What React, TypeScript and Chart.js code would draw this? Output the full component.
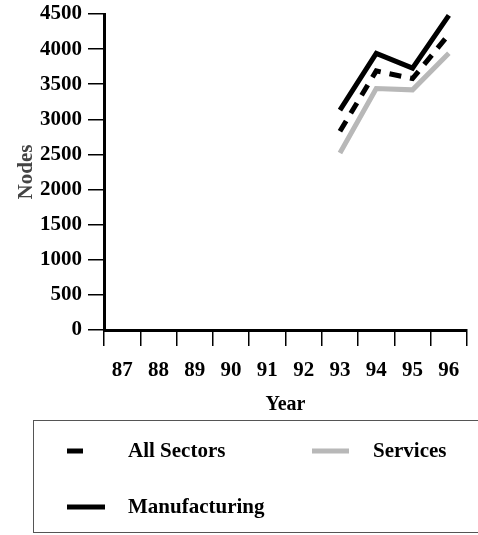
import React, { useEffect, useRef } from 'react';
import { Chart, registerables } from 'chart.js';

Chart.register(...registerables);

const years = ['87', '88', '89', '90', '91', '92', '93', '94', '95', '96'];
const allSectors = [null, null, null, null, null, null, 2830, 3690, 3580, 4210];
const services = [null, null, null, null, null, null, 2520, 3440, 3420, 3940];
const manufacturing = [null, null, null, null, null, null, 3130, 3940, 3730, 4480];
const yTicks = [0, 500, 1000, 1500, 2000, 2500, 3000, 3500, 4000, 4500];

const FONT = "'Liberation Serif', 'Times New Roman', serif";

const legendPlugin = {
  id: 'boxLegend',
  afterDraw(chart: any) {
    const ctx = chart.ctx as CanvasRenderingContext2D;
    ctx.save();
    ctx.strokeStyle = '#555';
    ctx.lineWidth = 1;
    ctx.strokeRect(33.5, 420.5, 460, 112);
    const items = [
      { ds: 0, mx1: 67, mx2: 83, tx: 128, y: 451 },
      { ds: 1, mx1: 312, mx2: 349, tx: 373, y: 451 },
      { ds: 2, mx1: 67, mx2: 105, tx: 128, y: 507 },
    ];
    ctx.font = `bold 21px ${FONT}`;
    ctx.textBaseline = 'middle';
    ctx.fillStyle = '#000';
    items.forEach((it) => {
      const d = chart.data.datasets[it.ds];
      ctx.beginPath();
      ctx.strokeStyle = d.borderColor;
      ctx.lineWidth = d.borderWidth;
      ctx.lineCap = 'butt';
      ctx.moveTo(it.mx1, it.y);
      ctx.lineTo(it.mx2, it.y);
      ctx.stroke();
      ctx.fillStyle = '#000';
      ctx.fillText(d.label, it.tx, it.y + 1);
    });
    ctx.restore();
  },
};

export default function App() {
  const ref = useRef<HTMLCanvasElement>(null);
  useEffect(() => {
    const chart = new Chart(ref.current!, {
      type: 'line',
      data: {
        labels: years,
        datasets: [
          {
            label: 'All Sectors',
            data: allSectors,
            borderColor: '#000',
            borderWidth: 5,
            borderDash: [12, 9],
            pointRadius: 0,
            fill: false,
            tension: 0,
          },
          {
            label: 'Services',
            data: services,
            borderColor: '#b8b8b8',
            borderWidth: 5,
            pointRadius: 0,
            fill: false,
            tension: 0,
          },
          {
            label: 'Manufacturing',
            data: manufacturing,
            borderColor: '#000',
            borderWidth: 5,
            pointRadius: 0,
            fill: false,
            tension: 0,
          },
        ],
      },
      options: {
        responsive: false,
        animation: false,
        devicePixelRatio: 1,
        clip: false as any,
        layout: { padding: { left: 0, top: 14, right: 11, bottom: 116 } },
        plugins: { legend: { display: false }, tooltip: { enabled: false } },
        scales: {
          x: {
            type: 'category',
            offset: true,
            grid: {
              offset: true,
              drawOnChartArea: false,
              drawTicks: true,
              tickLength: 16,
              color: '#000',
              lineWidth: 1.5,
            },
            border: { color: '#000', width: 3 },
            ticks: {
              color: '#000',
              font: { family: FONT, size: 21, weight: 'bold' },
              padding: 12,
              maxRotation: 0,
              autoSkip: false,
            },
            title: {
              display: true,
              text: 'Year',
              color: '#000',
              font: { family: FONT, size: 20, weight: 'bold' },
              padding: { top: 0, bottom: 2 },
            },
            afterFit: (s: any) => {
              s.height = 89;
              s.paddingLeft = 0;
              s.paddingRight = 0;
            },
          },
          y: {
            min: 0,
            max: 4500,
            afterBuildTicks: (s: any) => {
              s.ticks = yTicks.map((v) => ({ value: v }));
            },
            grid: {
              drawOnChartArea: false,
              drawTicks: true,
              tickLength: 16,
              color: '#000',
              lineWidth: 1.5,
            },
            border: { color: '#000', width: 3 },
            ticks: {
              color: '#000',
              font: { family: FONT, size: 21, weight: 'bold' },
              padding: 6,
              callback: (v: any) => String(v),
            },
            title: {
              display: true,
              text: 'Nodes',
              color: '#444',
              font: { family: FONT, size: 21, weight: 'bold' },
              padding: { top: 14, bottom: 0 },
            },
            afterFit: (s: any) => {
              s.width = 104;
              s.paddingTop = 0;
              s.paddingBottom = 0;
            },
          },
        },
      },
      plugins: [legendPlugin],
    } as any);
    return () => chart.destroy();
  }, []);
  return (
    <div style={{ position: 'fixed', left: 0, top: 0, width: 478, height: 535, background: '#fff' }}>
      <canvas ref={ref} width={478} height={535} style={{ display: 'block' }} />
    </div>
  );
}
